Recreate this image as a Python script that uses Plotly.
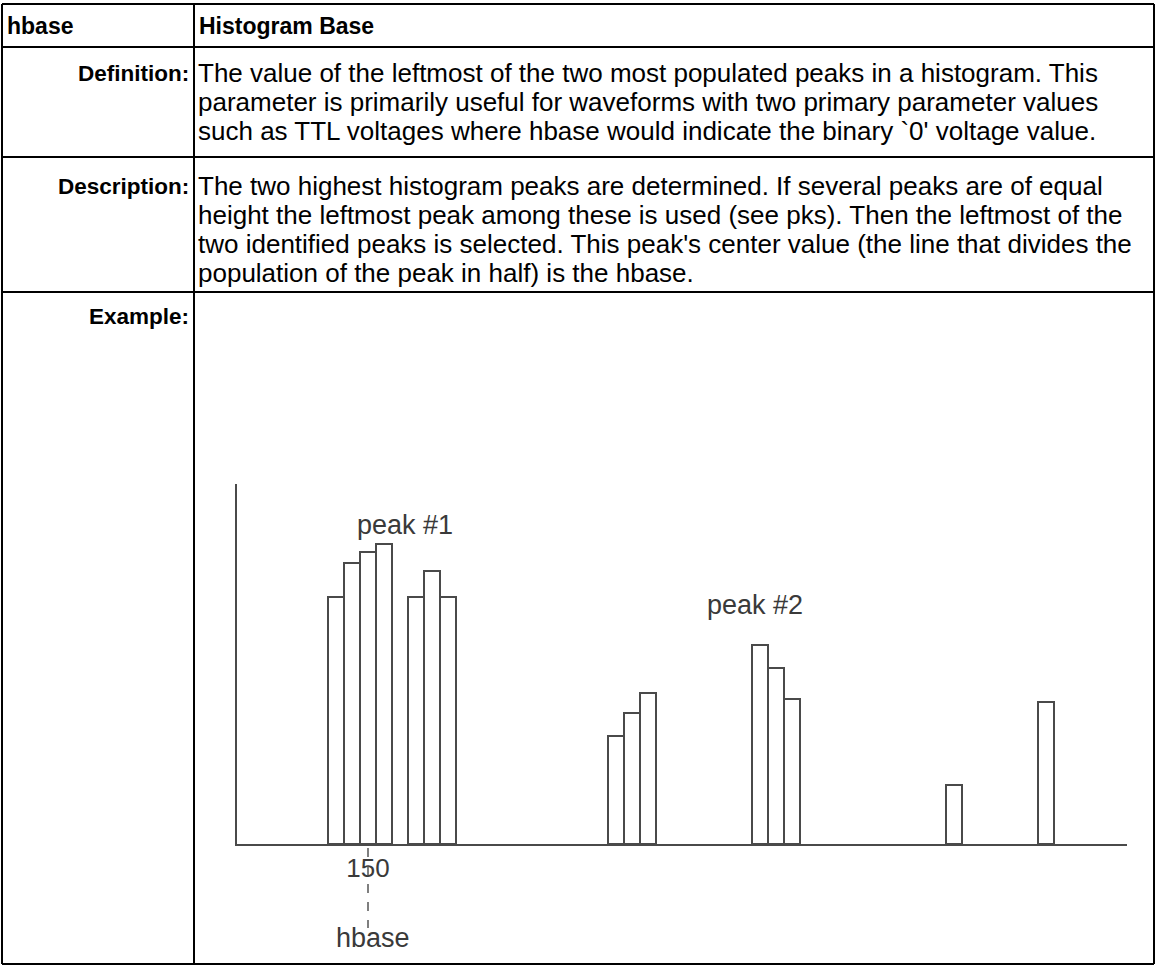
import plotly.graph_objects as go

W, H = 1155, 966

# ---- data ----
bin_values = [130, 140, 150, 160, 180, 190, 200, 305, 315, 325, 395, 405, 415, 516, 574]
bin_counts = [247, 281, 292, 300, 247, 273, 247, 108, 131, 151, 199, 176, 145, 59, 142]
tick_values = [150]
tick_labels = ["150"]
peak_labels = ["peak #1", "peak #2"]
peak_label_pos = [(173, 319), (392, 239)]
hbase_value = 150

header = ["hbase", "Histogram Base"]
row_labels = ["Definition:", "Description:", "Example:"]
definition_lines = [
    "The value of the leftmost of the two most populated peaks in a histogram. This",
    "parameter is primarily useful for waveforms with two primary parameter values",
    "such as TTL voltages where hbase would indicate the binary `0' voltage value.",
]
description_lines = [
    "The two highest histogram peaks are determined. If several peaks are of equal",
    "height the leftmost peak among these is used (see pks). Then the leftmost of the",
    "two identified peaks is selected. This peak's center value (the line that divides the",
    "population of the peak in half) is the hbase.",
]

def px(x):
    return x / W

def py(y):
    return 1 - y / H

FONT = "Arial, Liberation Sans, sans-serif"

fig = go.Figure()
fig.add_trace(go.Bar(
    x=bin_values, y=bin_counts, width=10,
    marker=dict(color="white", line=dict(color="#4a4a4a", width=2)),
    hoverinfo="skip",
))

# axis geometry (pixels)
ax_left, ax_right, ax_base, ax_top = 237, 1127, 844, 484
x_lo = 150 + (ax_left - 368) / 1.6
x_hi = 150 + (ax_right - 368) / 1.6

shapes = []
lw = 2
T_left, T_right, T_top, T_bot, T_col = 2, 1154, 4, 964, 194
row_lines = [T_top, 47, 157, 292, T_bot]
for y in row_lines:
    shapes.append(dict(type="line", xref="paper", yref="paper",
                       x0=px(T_left), x1=px(T_right), y0=py(y), y1=py(y),
                       line=dict(color="black", width=lw)))
for x in [T_left, T_col, T_right]:
    shapes.append(dict(type="line", xref="paper", yref="paper",
                       x0=px(x), x1=px(x), y0=py(T_top), y1=py(T_bot),
                       line=dict(color="black", width=lw)))
shapes.append(dict(type="line", xref="x", yref="paper",
                   x0=hbase_value, x1=hbase_value, y0=py(848), y1=py(928),
                   line=dict(color="#555555", width=1.5, dash="dash")))

annotations = []
LFS = 23
BFS = 26
PITCH = 29

def text(x, y, s, size, anchor="left", color="black"):
    annotations.append(dict(xref="paper", yref="paper", x=px(x), y=py(y), text=s,
                            xanchor=anchor, yanchor="middle", showarrow=False,
                            font=dict(family=FONT, size=size, color=color)))

text(5, 26, "<b>%s</b>" % header[0], LFS)
text(197, 26, "<b>%s</b>" % header[1], LFS)
label_centers = [73, 186, 316]
for lab, yc in zip(row_labels, label_centers):
    text(191, yc, "<b>%s</b>" % lab, LFS - 0.5, anchor="right")
for lines, y0 in [(definition_lines, 73), (description_lines, 186)]:
    for i, ln in enumerate(lines):
        text(196, y0 + i * PITCH, ln, BFS)

CFS = 27
for lab, (xv, yv) in zip(peak_labels, peak_label_pos):
    annotations.append(dict(xref="x", yref="y", x=xv, y=yv, text=lab, showarrow=False,
                            xanchor="center", yanchor="middle",
                            font=dict(family=FONT, size=CFS, color="#3a3a3a")))
annotations.append(dict(xref="x", yref="paper", x=hbase_value + 3, y=py(938), text="hbase", showarrow=False,
                        xanchor="center", yanchor="middle",
                        font=dict(family=FONT, size=CFS, color="#3a3a3a")))

fig.update_layout(
    width=W, height=H, margin=dict(l=0, r=0, t=0, b=0),
    paper_bgcolor="white", plot_bgcolor="white", showlegend=False,
    shapes=shapes, annotations=annotations, bargap=0,
    xaxis=dict(domain=[px(ax_left), px(ax_right)], range=[x_lo, x_hi],
               showline=True, linecolor="#4a4a4a", linewidth=2, showgrid=False, zeroline=False,
               tickmode="array", tickvals=tick_values, ticktext=tick_labels, ticks="",
               ticklabelstandoff=0,
               tickfont=dict(family=FONT, size=26, color="#3a3a3a")),
    yaxis=dict(domain=[py(ax_base), py(ax_top)], range=[0, ax_base - ax_top],
               showline=True, linecolor="#4a4a4a", linewidth=2, showgrid=False, zeroline=False,
               showticklabels=False, ticks=""),
)
fig.write_html("out.html", config={"displayModeBar": False},
               post_script="document.body.style.margin='0px';")
